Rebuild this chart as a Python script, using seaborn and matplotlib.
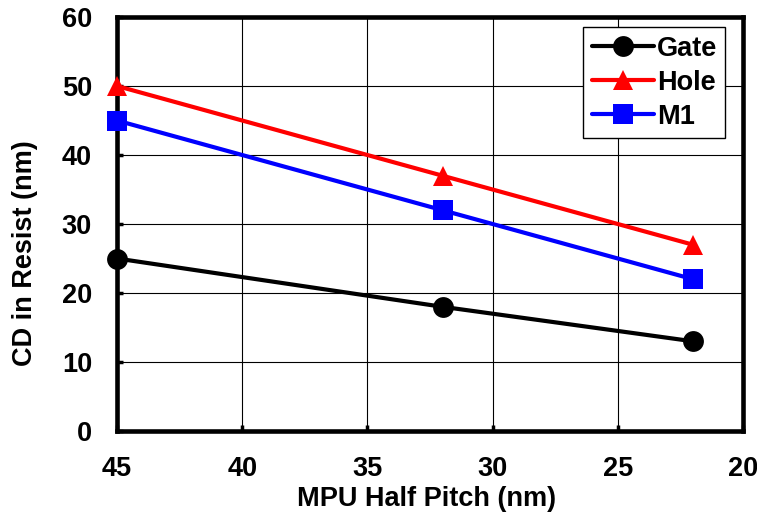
import matplotlib
matplotlib.use("Agg")
import matplotlib.pyplot as plt
import seaborn as sns
import pandas as pd

pitch = [45, 32, 22]
gate = [25, 18, 13]
hole = [50, 37, 27]
m1 = [45, 32, 22]
series = ["Gate", "Hole", "M1"]
colors = {"Gate": "#000000", "Hole": "#ff0000", "M1": "#0000ff"}
markers = {"Gate": "o", "Hole": "^", "M1": "s"}
xticks = [45, 40, 35, 30, 25, 20]
yticks = [0, 10, 20, 30, 40, 50, 60]

df = pd.DataFrame({
    "pitch": pitch * 3,
    "cd": gate + hole + m1,
    "series": [s for s in series for _ in pitch],
})

sns.set_theme(style="white")
plt.rcParams["font.family"] = ["Liberation Sans", "DejaVu Sans"]
plt.rcParams["font.weight"] = "bold"
plt.rcParams["text.color"] = "black"
plt.rcParams["axes.labelcolor"] = "black"
plt.rcParams["xtick.color"] = "black"
plt.rcParams["ytick.color"] = "black"

fig = plt.figure(figsize=(7.57, 5.24), dpi=100)
ax = fig.add_axes([0.1546, 0.1775, 0.8269, 0.79])

sns.lineplot(data=df, x="pitch", y="cd", hue="series", style="series",
             palette=colors, markers=markers, dashes=False, ax=ax,
             linewidth=3, markersize=15, markeredgewidth=0,
             clip_on=False, zorder=5)

ax.set_xlim(45, 20)
ax.set_ylim(0, 60)
ax.set_xticks(xticks)
ax.set_yticks(yticks)
ax.grid(True, color="black", linewidth=0.8)
for s in ax.spines.values():
    s.set_color("black")
    s.set_linewidth(3.3)
ax.tick_params(axis="both", direction="in", length=4, width=2.5, labelsize=19.5,
               colors="black", pad=18, bottom=True, left=True)
for lab in ax.get_xticklabels() + ax.get_yticklabels():
    lab.set_fontweight("bold")
ax.set_xlabel("MPU Half Pitch (nm)", fontsize=19.5, fontweight="bold")
ax.set_ylabel("CD in Resist (nm)", fontsize=19.5, fontweight="bold")
ax.xaxis.set_label_coords(0.494, -0.164)
ax.yaxis.set_label_coords(-0.147, 0.43)
ax.xaxis.label.set_verticalalignment("center")
ax.yaxis.label.set_verticalalignment("center")

leg = ax.legend(loc="upper right", bbox_to_anchor=(0.972, 0.975), fontsize=19.5,
                frameon=True, fancybox=False, handlelength=2.3,
                handletextpad=0.12, borderpad=0.3, labelspacing=0.3,
                borderaxespad=0)
leg.get_frame().set_edgecolor("black")
leg.get_frame().set_linewidth(1)
leg.get_frame().set_alpha(1)
for t in leg.get_texts():
    t.set_fontweight("bold")

fig.savefig("out.png", dpi=100)
